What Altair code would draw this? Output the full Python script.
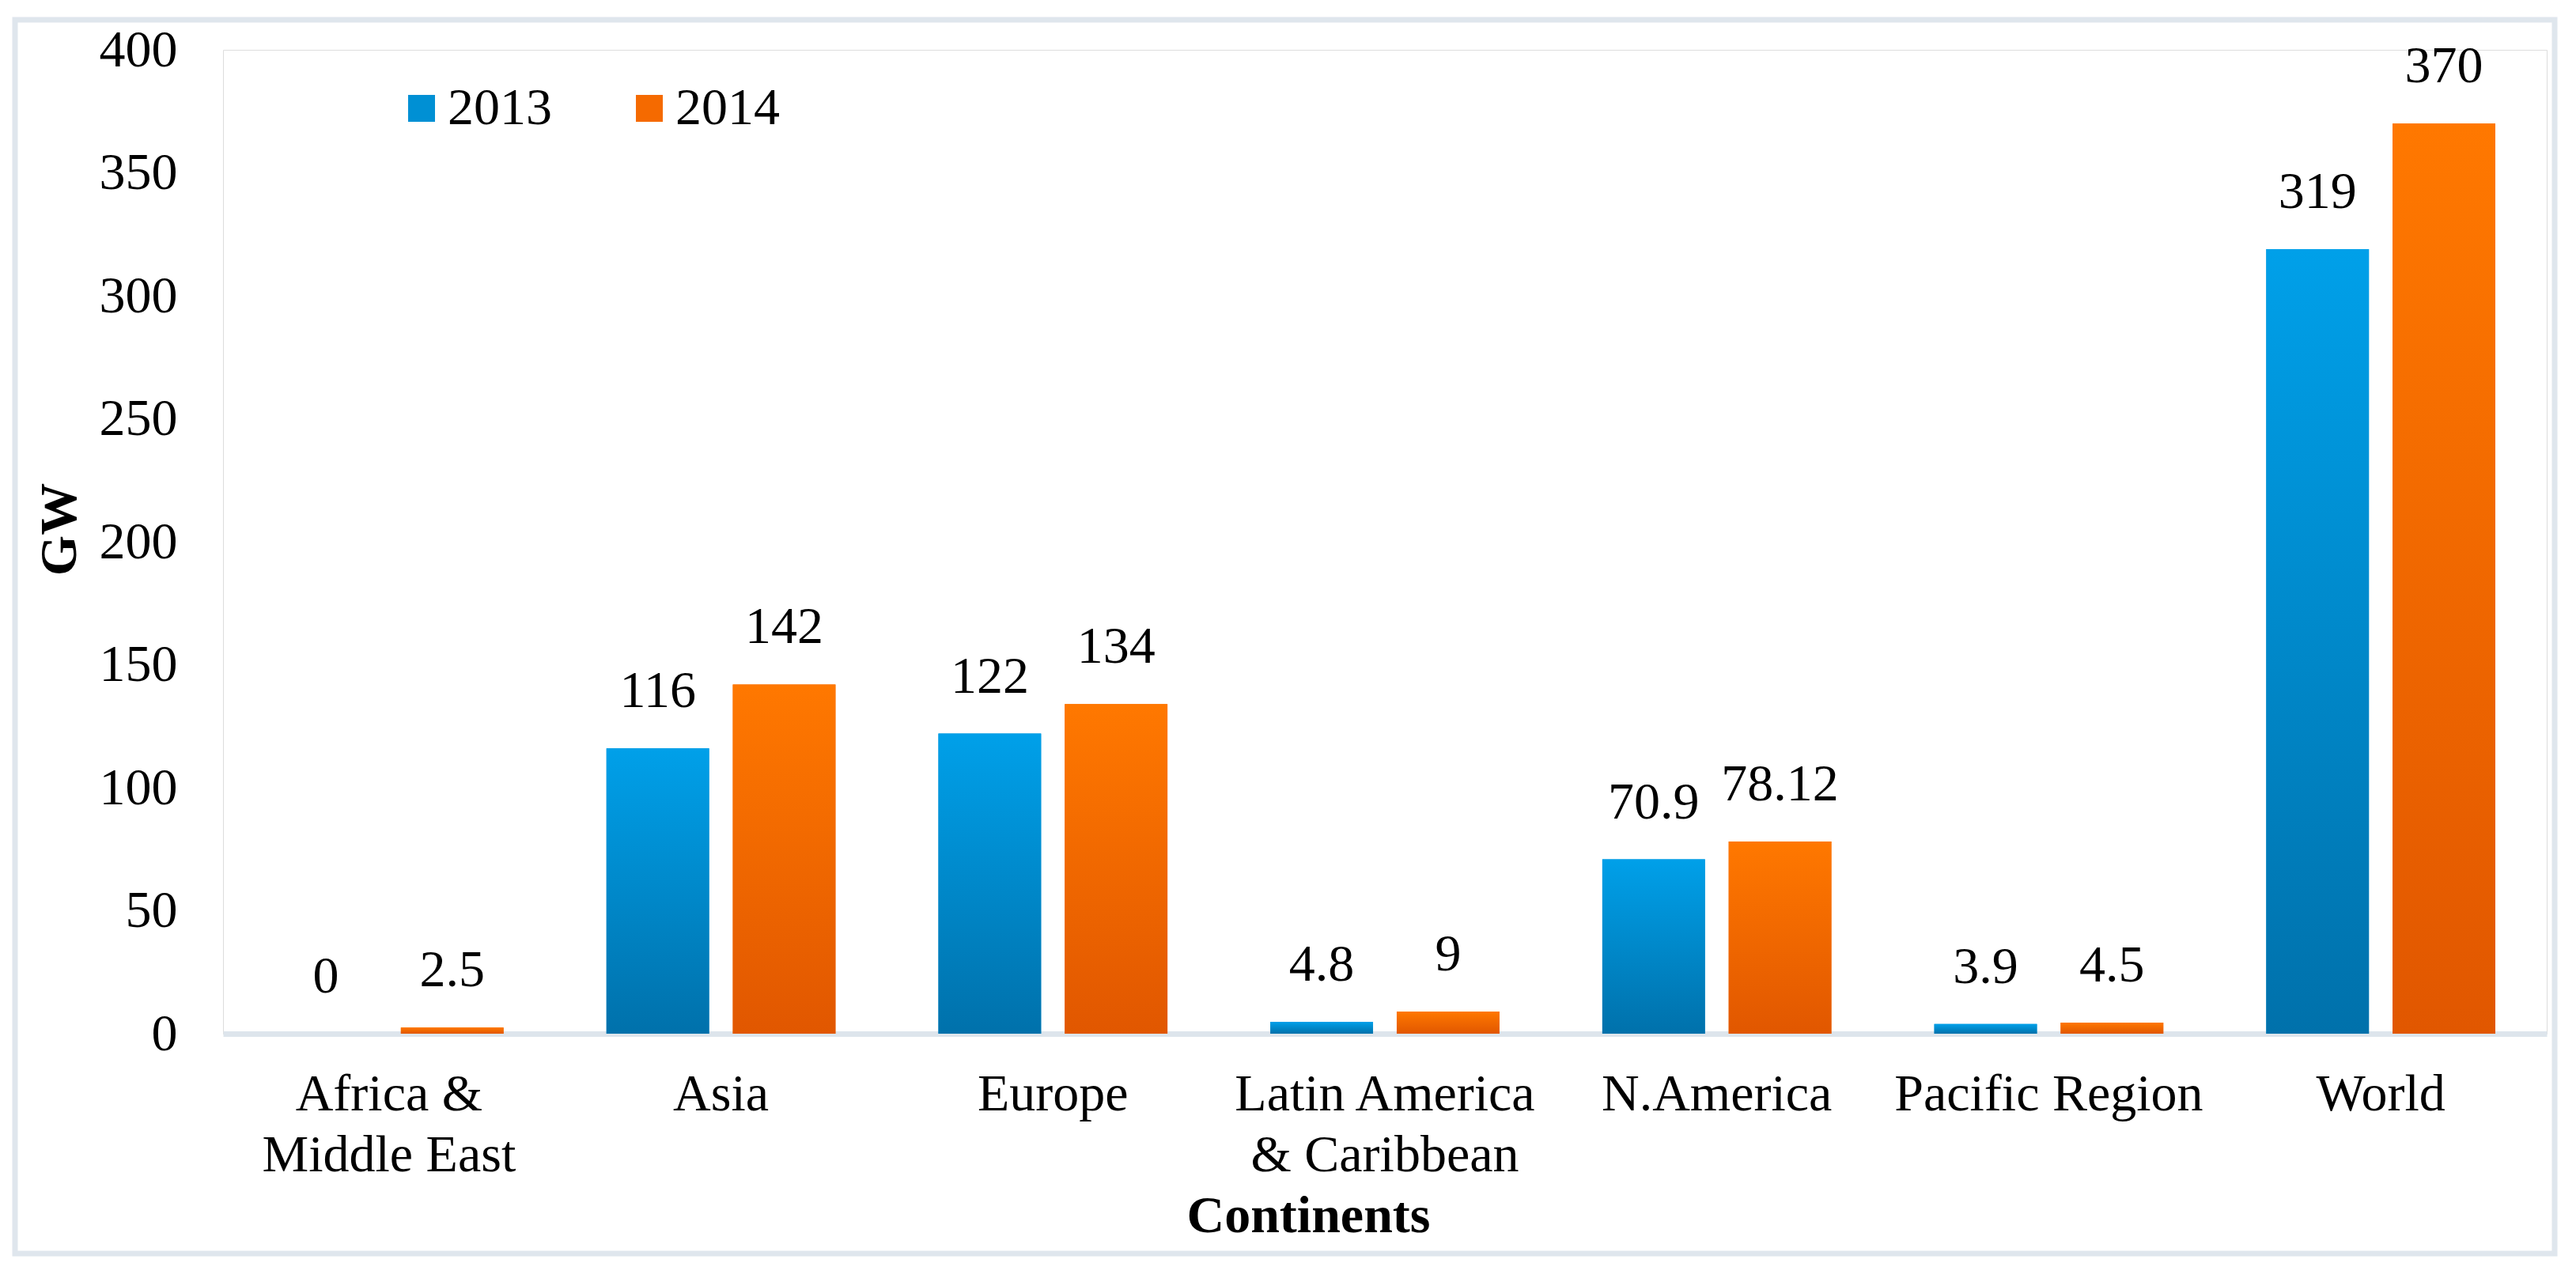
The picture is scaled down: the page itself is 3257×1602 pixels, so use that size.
import altair as alt
import pandas as pd

categories = ["Africa &\nMiddle East", "Asia", "Europe", "Latin America\n& Caribbean",
              "N.America", "Pacific Region", "World"]
years = ["2013", "2014"]
values_2013 = [0, 116, 122, 4.8, 70.9, 3.9, 319]
values_2014 = [2.5, 142, 134, 9, 78.12, 4.5, 370]
y_ticks = [0, 50, 100, 150, 200, 250, 300, 350, 400]

rows = []
for c, v13, v14 in zip(categories, values_2013, values_2014):
    rows.append({"continent": c, "year": "2013", "value": v13})
    rows.append({"continent": c, "year": "2014", "value": v14})
df = pd.DataFrame(rows)

FONT = "Liberation Serif"
FS = 66

grad_blue = {"gradient": "linear", "x1": 0, "x2": 0, "y1": 0, "y2": 1,
             "stops": [{"offset": 0, "color": "#00a0e9"}, {"offset": 1, "color": "#0071ab"}]}
grad_orange = {"gradient": "linear", "x1": 0, "x2": 0, "y1": 0, "y2": 1,
               "stops": [{"offset": 0, "color": "#ff7800"}, {"offset": 1, "color": "#e15700"}]}

x_enc = alt.X(
    "continent:N", sort=categories,
    scale=alt.Scale(paddingInner=0.31, paddingOuter=0.155),
    axis=alt.Axis(
        title="Continents", labelExpr="split(datum.label, '\\n')",
        labelAngle=0, labelPadding=44, labelLineHeight=77, labelBaseline="top",
        labelFont=FONT, labelFontSize=FS, labelColor="black", labelLimit=0,
        titleFont=FONT, titleFontSize=FS, titleFontWeight="bold", titleColor="black",
        titleX=1372, titleY=250, titleBaseline="alphabetic", titleAlign="center",
        domainColor="#dde5ec", domainWidth=7, ticks=False, grid=False,
    ),
)
xoff_enc = alt.XOffset("year:N", scale=alt.Scale(domain=years, paddingInner=0.1875, paddingOuter=0))
y_enc = alt.Y(
    "value:Q", scale=alt.Scale(domain=[0, 400], nice=False),
    axis=alt.Axis(
        values=y_ticks, title="GW", titleX=-207, titleY=606, titleAngle=270,
        titleBaseline="middle", titleAlign="center",
        titleFont=FONT, titleFontSize=FS, titleFontWeight="bold", titleColor="black",
        labelFont=FONT, labelFontSize=FS, labelColor="black", labelPadding=58,
        domain=False, ticks=False, grid=False,
    ),
)

base = alt.Chart(df)

bars_solid = base.mark_bar().encode(
    x=x_enc, xOffset=xoff_enc, y=y_enc,
    color=alt.Color(
        "year:N",
        scale=alt.Scale(domain=years, range=["#0090d4", "#f56a00"]),
        legend=alt.Legend(
            title=None, orient="none", legendX=218, legendY=41, direction="horizontal",
            symbolType="square", symbolSize=1156, symbolStrokeWidth=0,
            labelFont=FONT, labelFontSize=FS, labelColor="black",
            labelOffset=0, columnPadding=90,
        ),
    ),
)

bars_grad = base.mark_bar().encode(
    x=x_enc, xOffset=xoff_enc, y=y_enc,
    fill=alt.condition("datum.year == '2013'", alt.value(grad_blue), alt.value(grad_orange)),
)

labels = base.mark_text(dy=-52, baseline="alphabetic", align="center",
                        font=FONT, fontSize=FS, color="black").encode(
    x=x_enc, xOffset=xoff_enc, y=y_enc,
    text=alt.Text("value:Q", format="~g"),
)

frame = alt.Chart(pd.DataFrame({"f": [0]})).mark_rect(
    filled=False, stroke="#dfe6ed", strokeWidth=7
).encode(
    x=alt.value(-263), x2=alt.value(2948), y=alt.value(-38), y2=alt.value(1522)
)

chart = alt.layer(frame, bars_solid, bars_grad, labels).properties(
    width=2938, height=1244,
    autosize=alt.AutoSizeParams(type="none"),
    padding={"left": 274, "top": 55, "right": 20, "bottom": 285},
    background="white",
).configure_view(stroke=None).configure(font=FONT)

chart.save("out.html", embed_options={"renderer": "svg", "actions": False})
